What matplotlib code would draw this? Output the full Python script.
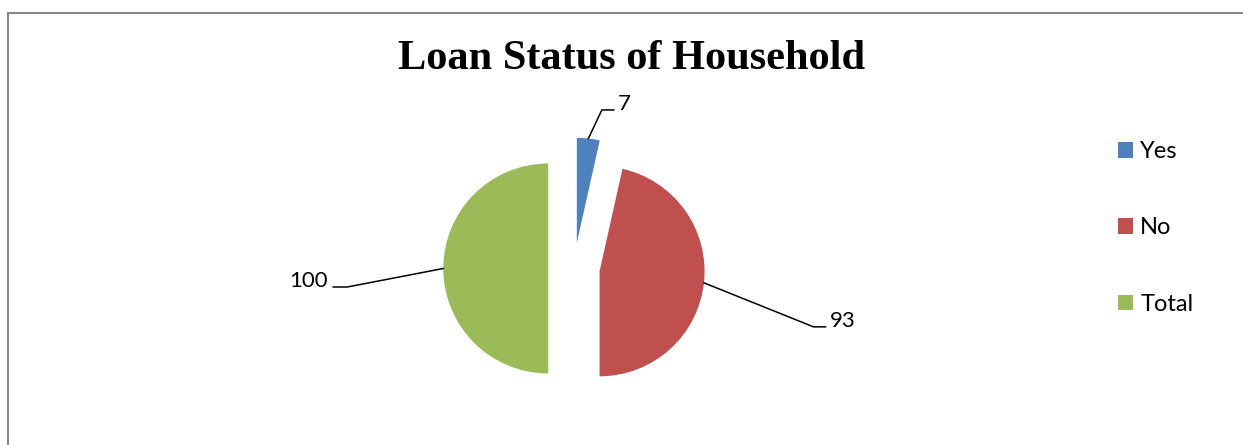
import matplotlib.pyplot as plt
import matplotlib.patches as mpatches
import numpy as np

categories = ['Yes', 'No', 'Total']
values = [7, 93, 100]
colors = ['#4F81BD', '#C0504D', '#9BBB59']

W, H = 1243, 445
R = 105.0           # pie radius in pixels
cx, cy = 574, 268.5  # pie centre (pixels from top-left)

fig = plt.figure(figsize=(W / 100, H / 100), dpi=100)
fig.patch.set_facecolor('white')

# outer chart border, cut off at right and bottom
fig.add_artist(mpatches.Rectangle((8 / W, -0.2), 1.2, 1.2 - 12.5 / H,
                                  transform=fig.transFigure, fill=False,
                                  edgecolor='#878787', linewidth=1.5))

ax = fig.add_axes([0, 0, 1, 1])
wedges, _ = ax.pie(values, colors=colors, startangle=90, counterclock=False,
                   explode=[0.245, 0.245, 0.245], radius=1.0,
                   wedgeprops=dict(linewidth=0))
ax.set_xlim(-cx / R, (W - cx) / R)
ax.set_ylim(-(H - cy) / R, cy / R)
ax.set_aspect('auto')
ax.axis('off')

# leader lines: (elbow dx, dy) and horizontal tail length, in pixels
leaders = [(13.5, 28.6, 12), (109.6, -44, 12), (-96, -18.5, -14)]
for w, v, (ex, ey, tail) in zip(wedges, values, leaders):
    mid = np.deg2rad((w.theta1 + w.theta2) / 2)
    x0 = w.center[0] + w.r * np.cos(mid)
    y0 = w.center[1] + w.r * np.sin(mid)
    x1, y1 = x0 + ex / R, y0 + ey / R
    x2 = x1 + tail / R
    ax.plot([x0, x1, x2], [y0, y1, y1], color='black', linewidth=1.1)
    ha = 'left' if tail > 0 else 'right'
    gap = 4 / R if tail > 0 else -5 / R
    ax.text(x2 + gap, y1, str(v), ha=ha, va='baseline',
            fontsize=16, family='Lato', color='black')

fig.text(632 / W, 1 - 59 / H, 'Loan Status of Household', ha='center',
         va='center', fontsize=30.5, fontweight='bold', family='Liberation Serif')

leg = ax.legend(wedges, categories, loc='upper left',
                bbox_to_anchor=(1118 / W, 1 - 141 / H),
                bbox_transform=fig.transFigure, frameon=False,
                prop=dict(family='Lato', size=17),
                handlelength=0.64, handleheight=0.64, handletextpad=0.3,
                labelspacing=2.35, borderpad=0, borderaxespad=0)

fig.savefig('out.png', dpi=100)
